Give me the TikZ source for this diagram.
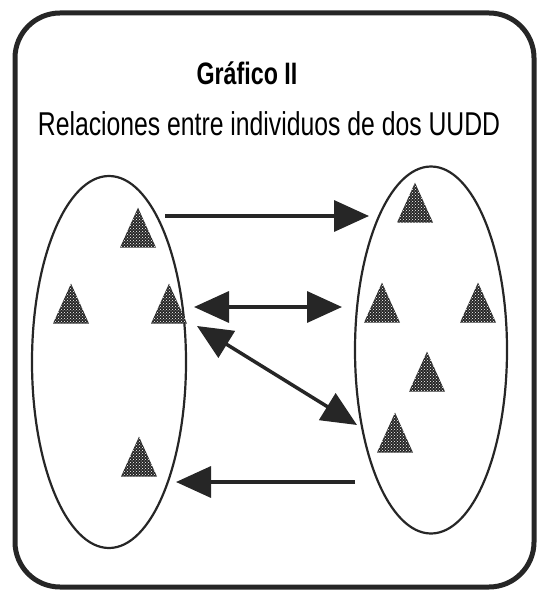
\documentclass[tikz,border=0pt]{standalone}
\usepackage{fontspec}
\newfontfamily\condfont[FakeStretch=0.75]{Liberation Sans}
\usetikzlibrary{shapes.geometric,arrows.meta,patterns}

\begin{document}
\begin{tikzpicture}[x=1pt, y=-1pt,
        grupo/.style = {ellipse, draw = black!85, line width = 2.2pt, inner sep = 0pt},
        individuo/.style = {isosceles triangle, shape border rotate = 90, isosceles triangle stretches,
            minimum width = 36pt, minimum height = 40pt, inner sep = 0pt,
            fill = black!85, postaction = {pattern = crosshatch dots, pattern color = white}},
        flecha/.style = {draw = black!85, line width = 3.5pt, -{Triangle[length = 35pt, width = 31pt]}},
        doble/.style = {draw = black!85, line width = 3.5pt, {Triangle[length = 35pt, width = 31pt]}-{Triangle[length = 35pt, width = 31pt]}}]
        \useasboundingbox (0, 0) rectangle (541, 593);
        \draw[black!85, line width = 5pt, rounded corners = 45pt] (15, 13) rectangle (534, 587);
        % titulo
        \node[anchor = base, inner sep = 0pt] (titulo) at (247, 85) {\condfont\bfseries\fontsize{31}{34}\selectfont Gráfico II};
        \node[anchor = base, inner sep = 0pt] (subtitulo) at (269, 136) {\condfont\fontsize{33}{36}\selectfont Relaciones entre individuos de dos UUDD};
        % las dos UUDD
        \node[grupo, minimum width = 154pt, minimum height = 372pt] (uddA) at (109, 362) {};
        \node[grupo, minimum width = 152pt, minimum height = 367pt] (uddB) at (431, 350) {};
        % individuos
        \node[individuo] (a1) at (138, 236) {};
        \node[individuo] (a2) at (71, 312) {};
        \node[individuo] (a3) at (169, 312) {};
        \node[individuo] (a4) at (139, 465) {};
        \node[individuo] (b1) at (415, 211) {};
        \node[individuo] (b2) at (382, 311) {};
        \node[individuo] (b3) at (478, 311) {};
        \node[individuo] (b4) at (427, 380) {};
        \node[individuo] (b5) at (395, 441) {};
        % relaciones
        \coordinate (r1s) at (165, 216);
        \coordinate (r1e) at (369, 216);
        \coordinate (r2s) at (194, 307);
        \coordinate (r2e) at (342, 307);
        \coordinate (r3s) at (197, 326);
        \coordinate (r3e) at (357, 425);
        \coordinate (r4s) at (355, 482);
        \coordinate (r4e) at (176, 482);
        \draw[flecha] (r1s) -- (r1e);
        \draw[doble] (r2s) -- (r2e);
        \draw[doble] (r3s) -- (r3e);
        \draw[flecha] (r4s) -- (r4e);
    \end{tikzpicture}
\end{document}
